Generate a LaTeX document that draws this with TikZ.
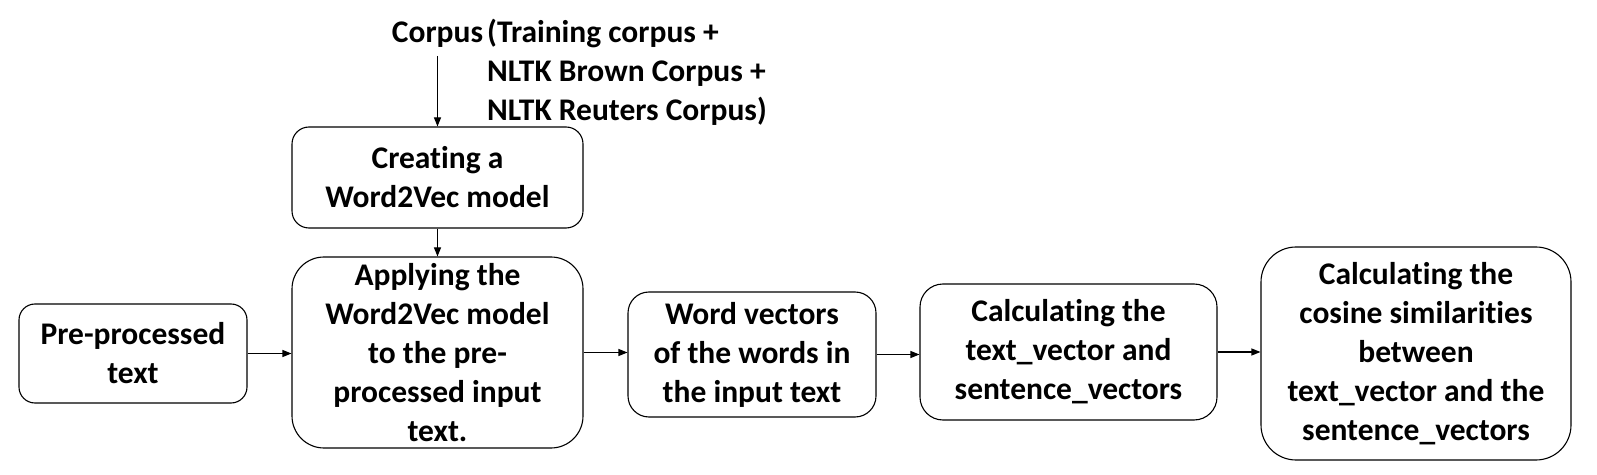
\documentclass[tikz,border=0pt]{standalone}
\usepackage{fontspec}
\setmainfont{Carlito}[Ligatures=NoCommon]
\usetikzlibrary{arrows.meta}
\begin{document}
\begin{tikzpicture}[x=1pt,y=1pt,
  box/.style={draw=black, line width=1.1pt, align=center, inner sep=0pt,
    font=\fontsize{31.5}{39}\selectfont\bfseries},
  lbl/.style={inner sep=0pt, font=\fontsize{31.5}{39}\selectfont\bfseries},
  arr/.style={draw=black, line width=1.1pt, -{Triangle[length=9pt,width=7pt]}}]
\useasboundingbox (0,0) rectangle (1597,474);
\fill[white] (0,0) rectangle (1597,474);
% nodes (y = 474 - pixel row)
\node[box, rounded corners=16pt, minimum width=228pt, minimum height=99pt] (pre) at (133,120.5)
  {Pre-processed\\text};
\node[box, rounded corners=17pt, minimum width=291pt, minimum height=101pt] (create) at (437.5,296.5)
  {Creating a\\Word2Vec model};
\node[box, rounded corners=32pt, minimum width=291pt, minimum height=191pt] (apply) at (437.5,121.5)
  {Applying the\\Word2Vec model\\to the pre-\\processed input\\text.};
\node[box, rounded corners=21pt, minimum width=248pt, minimum height=125pt] (word) at (752,119.5)
  {Word vectors\\of the words in\\the input text};
\node[box, rounded corners=23pt, minimum width=297pt, minimum height=136pt] (calc) at (1068.5,122)
  {Calculating the\\text\_vector and\\sentence\_vectors};
\node[box, rounded corners=35pt, minimum width=310pt, minimum height=213pt] (cos) at (1416,120.5)
  {Calculating the\\cosine similarities\\between\\text\_vector and the\\sentence\_vectors};
% corpus label
\node[lbl, anchor=base] (corpus) at (437.5,431) {Corpus};
\node[lbl, anchor=base west] (c1) at (487,431) {(Training corpus +};
\node[lbl, anchor=base west] (c2) at (487,392) {NLTK Brown Corpus +};
\node[lbl, anchor=base west] (c3) at (487,353) {NLTK Reuters Corpus)};
\coordinate (cstart) at (437.5,418);
% connectors
\draw[arr] (cstart) -- (create.north);
\draw[arr] (create.south) -- (apply.north);
\draw[arr] (pre.east) -- (pre.east -| apply.west);
\draw[arr] (apply.east) -- (apply.east -| word.west);
\draw[arr] (word.east) -- (word.east -| calc.west);
\draw[arr] (calc.east) -- (calc.east -| cos.west);
\end{tikzpicture}
\end{document}
